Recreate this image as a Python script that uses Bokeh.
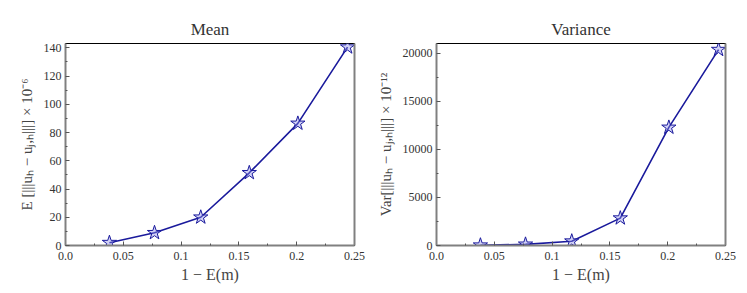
from bokeh.plotting import figure
from bokeh.layouts import row
from bokeh.models import Range1d, LinearAxis, FixedTicker
from bokeh.embed import file_html
from bokeh.resources import INLINE

# data
x_vals = [0.038, 0.077, 0.117, 0.159, 0.201, 0.244]
mean_vals = [2.0, 9.0, 20.0, 51.5, 86.5, 140.5]
var_vals = [30, 120, 450, 2850, 12300, 20400]

x_ticks = [0.0, 0.05, 0.1, 0.15, 0.2, 0.25]
x_tick_labels = {0.0: "0.0", 0.05: "0.05", 0.1: "0.1", 0.15: "0.15", 0.2: "0.2", 0.25: "0.25"}
mean_ticks = [0, 20, 40, 60, 80, 100, 120, 140]
var_ticks = [0, 5000, 10000, 15000, 20000]

FONT = "Liberation Serif"
LINE = "#1a1a9c"
FILL = "#8c8ce8"


def make(title, y, yticks, yend, ylabel, left_border, right_border):
    p = figure(frame_width=289, frame_height=202, output_backend="svg",
               toolbar_location=None, min_border_left=left_border,
               min_border_right=right_border, min_border_top=43,
               min_border_bottom=10,
               x_range=Range1d(0, 0.25), y_range=Range1d(0, yend))
    p.title.text = title
    p.title.text_font = FONT
    p.title.text_font_size = "17px"
    p.title.text_font_style = "normal"
    p.title.align = "center"
    p.title.text_color = "#333333"
    p.grid.visible = False
    p.outline_line_color = "black"
    p.outline_line_width = 1
    p.outline_line_alpha = 1

    p.xaxis.ticker = FixedTicker(ticks=x_ticks,
                                 minor_ticks=[0.025, 0.075, 0.125, 0.175, 0.225])
    p.xaxis.major_label_overrides = x_tick_labels
    p.yaxis.ticker = FixedTicker(ticks=yticks,
                                 minor_ticks=[(a + b) / 2 for a, b in zip(yticks[:-1], yticks[1:])] + [yticks[-1] + (yticks[1] - yticks[0]) / 2])
    for ax in (p.xaxis[0], p.yaxis[0]):
        ax.axis_line_color = "#808080"
        ax.axis_line_width = 2
        ax.major_tick_in = 4
        ax.major_tick_out = 0
        ax.minor_tick_in = 2
        ax.minor_tick_out = 0
        ax.major_tick_line_color = "#555555"
        ax.minor_tick_line_color = "#555555"
        ax.major_label_text_font = FONT
        ax.major_label_text_font_size = "12px"
        ax.major_label_text_color = "#333333"
        ax.axis_label_text_font = FONT
        ax.axis_label_text_font_style = "normal"
        ax.axis_label_text_color = "#444444"
    p.xaxis.axis_label = "1 − E(m)"
    p.xaxis.axis_label_text_font_size = "16px"
    p.xaxis.axis_label_standoff = 3
    p.xaxis.major_label_standoff = 6
    p.yaxis.axis_label = ylabel
    p.yaxis.axis_label_text_font_size = "15px"
    p.yaxis.axis_label_standoff = 6
    p.yaxis.major_label_standoff = 4

    right = LinearAxis(ticker=FixedTicker(ticks=[]), axis_line_color="#808080",
                       axis_line_width=2, major_label_text_font_size="0px",
                       major_tick_out=0, major_tick_in=0, minor_tick_out=0,
                       minor_tick_in=0, major_label_standoff=0)
    p.add_layout(right, "right")

    p.line(x_vals, y, line_color=LINE, line_width=1.6)
    p.scatter(x_vals, y, marker="star", size=15, fill_color=FILL, fill_alpha=0.4,
              line_color=LINE, line_width=1)
    return p


p1 = make("Mean", mean_vals, mean_ticks, 143.1,
          "E [|||uₕ − uⱼ,ₕ|||] × 10⁻⁶", 65, 19)
p2 = make("Variance", var_vals, var_ticks, 21040,
          "Var[|||uₕ − uⱼ,ₕ|||] × 10⁻¹²", 63, 11)

layout = row(p1, p2)
open("out.html", "w").write(file_html(layout, INLINE))
